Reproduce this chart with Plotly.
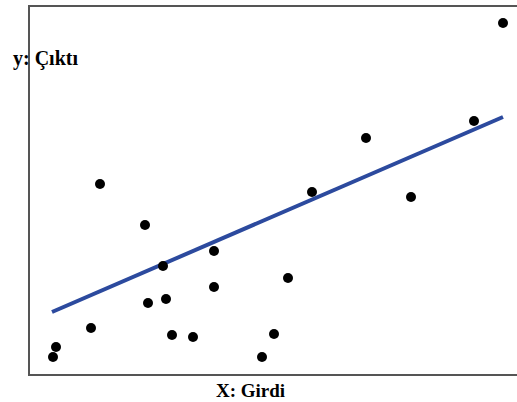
import plotly.graph_objects as go

# Data (arbitrary units)
x_vals = [115, 184, 133, 184, 118, 136, 61, 142, 163, 26, 23, 232, 70, 473, 444, 336, 282, 381, 258, 244]
y_vals = [149, 123, 108, 87, 71, 75, 46, 39, 37, 27, 17, 17, 190, 351, 253, 236, 182, 177, 96, 40]

fit_x = [22, 473]
fit_y = [62, 257]

x_label = "X: Girdi"
y_label = "y: Çıktı"

fig = go.Figure()
fig.add_trace(go.Scatter(x=fit_x, y=fit_y, mode="lines",
                         line=dict(color="#2C4A9E", width=4), hoverinfo="skip"))
fig.add_trace(go.Scatter(x=x_vals, y=y_vals, mode="markers",
                         marker=dict(color="black", size=10)))

fig.update_layout(
    width=517, height=402,
    margin=dict(l=30, r=0, t=7, b=28),
    paper_bgcolor="white", plot_bgcolor="white",
    showlegend=False,
    xaxis=dict(range=[0, 487], showgrid=False, zeroline=False, showticklabels=False,
               ticks="", showline=True, linecolor="#555555", linewidth=2, mirror=True),
    yaxis=dict(range=[0, 367], showgrid=False, zeroline=False, showticklabels=False,
               ticks="", showline=True, linecolor="#555555", linewidth=2),
    annotations=[
        dict(text="<b>" + y_label + "</b>", xref="paper", yref="paper",
             x=0.031, y=0.861, xanchor="center", yanchor="middle", showarrow=False,
             font=dict(family="Liberation Serif", size=20, color="black")),
        dict(text="<b>" + x_label + "</b>", xref="paper", yref="paper",
             x=0.452, y=-0.046, xanchor="center", yanchor="middle", showarrow=False,
             font=dict(family="Liberation Serif", size=19, color="black")),
    ],
)

fig.write_html("out.html", config={"displayModeBar": False},
               post_script="document.body.style.margin='0';document.body.style.overflow='hidden';")
